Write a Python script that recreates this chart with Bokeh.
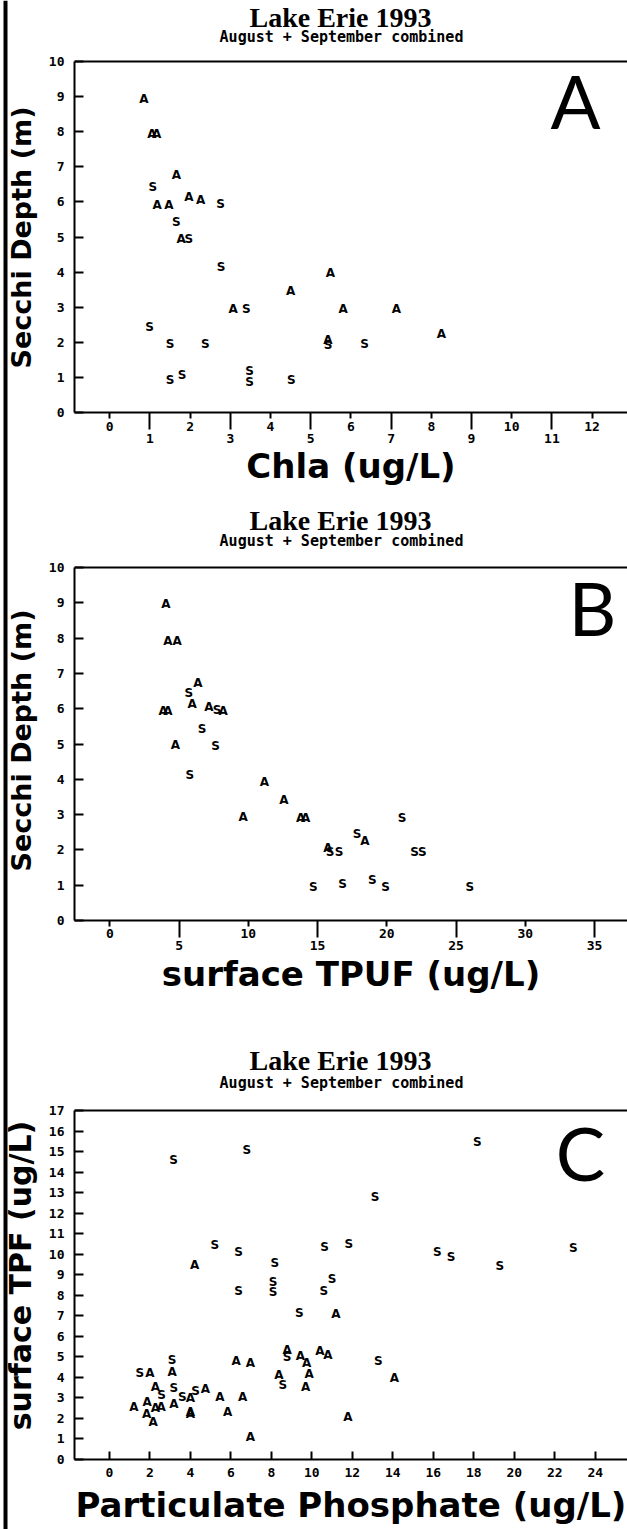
import math
from bokeh.plotting import figure
from bokeh.models import (ColumnDataSource, FixedTicker, LinearAxis, Range1d, Label, Span,
                          BoxAnnotation)
from bokeh.layouts import column, row
from bokeh.core.properties import value
from bokeh.embed import file_html
from bokeh.resources import INLINE

# ---------------- data ----------------
# Panel A: Secchi depth vs Chla
chla_A = [0.85, 1.05, 1.17, 1.66, 1.97, 2.26, 1.18, 1.47, 1.78, 3.07, 5.49, 4.50, 5.81, 7.13, 8.25, 5.43]
secchiA_A = [8.93, 7.93, 7.93, 6.77, 6.15, 6.06, 5.92, 5.92, 4.93, 2.96, 3.97, 3.46, 2.96, 2.96, 2.23, 2.06]
chla_S = [1.07, 2.76, 1.66, 1.97, 2.77, 3.40, 0.99, 1.50, 2.38, 1.50, 1.80, 3.48, 3.48, 5.43, 6.34, 4.52]
secchiA_S = [6.43, 5.94, 5.44, 4.93, 4.14, 2.96, 2.43, 1.94, 1.94, 0.94, 1.06, 1.17, 0.87, 1.91, 1.94, 0.94]

# Panel B: Secchi depth vs surface TPUF
tpuf_A = [4.05, 4.19, 4.87, 6.36, 5.95, 3.86, 4.19, 7.15, 8.19, 4.74, 11.17, 12.57, 9.63, 13.78, 14.14, 18.41, 15.74]
secchiB_A = [8.97, 7.93, 7.93, 6.72, 6.12, 5.93, 5.93, 6.04, 5.93, 4.96, 3.92, 3.42, 2.93, 2.90, 2.90, 2.24, 2.05]
tpuf_S = [5.71, 7.75, 6.67, 7.63, 5.78, 21.11, 17.86, 15.90, 16.55, 22.00, 22.56, 14.69, 16.81, 18.95, 19.91, 26.00]
secchiB_S = [6.44, 5.95, 5.43, 4.95, 4.13, 2.91, 2.44, 1.94, 1.94, 1.94, 1.94, 0.94, 1.04, 1.15, 0.94, 0.94]

# Panel C: surface TPF vs particulate phosphate
pp_A = [4.21, 11.19, 8.78, 9.44, 9.74, 10.40, 10.79, 9.87, 9.69, 8.37, 6.27, 6.97, 3.10, 2.00, 2.28, 1.21,
        1.87, 1.84, 2.17, 2.28, 2.56, 3.19, 4.01, 4.01, 4.01, 4.75, 5.46, 5.85, 6.58, 6.97, 11.78, 14.08]
tpf_A = [9.46, 7.11, 5.33, 5.04, 4.68, 5.30, 5.09, 4.16, 3.54, 4.11, 4.81, 4.68, 4.27, 4.19, 3.51, 2.57,
         2.81, 2.20, 1.84, 2.49, 2.57, 2.70, 2.98, 2.33, 2.21, 3.42, 3.03, 2.33, 3.03, 1.11, 2.08, 3.98]
pp_S = [8.17, 8.09, 8.09, 6.38, 10.59, 11.00, 9.38, 8.78, 3.10, 1.51, 2.58, 3.19, 3.60, 4.26, 8.57,
        3.18, 6.79, 18.18, 13.13, 5.21, 6.38, 10.63, 11.83, 16.20, 16.88, 19.29, 22.92, 13.29]
tpf_S = [9.55, 8.65, 8.17, 8.21, 8.21, 8.78, 7.14, 5.00, 4.84, 4.19, 3.14, 3.46, 3.06, 3.35, 3.62,
         14.61, 15.10, 15.47, 12.79, 10.47, 10.11, 10.36, 10.52, 10.11, 9.87, 9.42, 10.31, 4.79]

ticksA_even = [0, 2, 4, 6, 8, 10, 12]
ticksA_odd = [1, 3, 5, 7, 9, 11]
ticksB_even = [0, 10, 20, 30]
ticksB_odd = [5, 15, 25, 35]
ticksC = [0, 2, 4, 6, 8, 10, 12, 14, 16, 18, 20, 22, 24]
yticks10 = list(range(0, 11))
yticks17 = list(range(0, 18))

TITLE = "Lake Erie 1993"
SUBTITLE = "August + September combined"
YLABEL_AB = "Secchi Depth (m)"
YLABEL_C = "surface TPF (ug/L)"

# ---------------- layout helpers ----------------
PAGE_W, PAGE_H = 627, 1529
GUTTER_W = 44
FIG_W = PAGE_W - GUTTER_W
FRAME_L = 74
FRAME_R = 627
FRAME_W = FRAME_R - FRAME_L
MID = 0.40  # distance (in em) from the baseline up to the text middle

MONO = "DejaVu Sans Mono"
HEAVY = "DejaVu Sans"


def style_axis(ax, fs="13px"):
    ax.axis_line_width = 2
    ax.axis_line_color = "black"
    ax.major_tick_line_width = 2
    ax.minor_tick_line_width = 2
    ax.major_tick_line_color = "black"
    ax.minor_tick_line_color = "black"
    ax.major_label_text_font = MONO
    ax.major_label_text_font_style = "bold"
    ax.major_label_text_font_size = fs
    ax.major_label_text_color = "black"
    ax.axis_label_text_font = HEAVY
    ax.axis_label_text_font_style = "bold"
    ax.axis_label_text_color = "black"


# left gutter: page border bar and the rotated y-axis titles
gutter = figure(width=GUTTER_W, height=PAGE_H, x_range=Range1d(0, GUTTER_W),
                y_range=Range1d(0, PAGE_H), output_backend="svg", toolbar_location=None,
                x_axis_location=None, y_axis_location=None,
                min_border_left=0, min_border_right=0, min_border_top=0, min_border_bottom=0)
gutter.outline_line_color = None
gutter.xgrid.visible = False
gutter.ygrid.visible = False
gutter.add_layout(BoxAnnotation(left=3, right=7, fill_color="black", fill_alpha=1.0,
                                line_color=None))


def gutter_label(text, base_x, center_y, fs):
    gutter.add_layout(Label(x=base_x - MID * fs, y=PAGE_H - center_y, text=text, text_font=HEAVY,
                            text_font_style="bold", text_font_size=f"{fs}px",
                            text_align="center", text_baseline="middle", angle=math.pi / 2,
                            text_color="black"))


def make_panel(fig_top, fig_h, frame_top, frame_h, zero_px, ppu, ymax, yticks,
               title_base, sub_base):
    # the frame reaches the figure top so the titles can sit inside it;
    # the visible y axis is bounded to 0..ymax
    frame_bottom = frame_top + frame_h
    x0 = (FRAME_L - zero_px) / ppu
    x1 = (FRAME_R - zero_px) / ppu
    y_top = ymax * (frame_bottom - fig_top) / frame_h
    p = figure(width=FIG_W, height=fig_h,
               x_range=Range1d(x0, x1), y_range=Range1d(0, y_top),
               output_backend="svg", toolbar_location=None,
               x_axis_location=None, y_axis_location="left",
               min_border_left=FRAME_L - GUTTER_W, min_border_right=0,
               min_border_top=0,
               min_border_bottom=fig_h - (frame_bottom - fig_top))
    p.outline_line_color = None
    p.xgrid.visible = False
    p.ygrid.visible = False
    p.background_fill_color = "white"
    p.border_fill_color = "white"
    ya = p.yaxis[0]
    ya.ticker = FixedTicker(ticks=yticks)
    ya.bounds = (0, ymax)
    style_axis(ya)
    ya.major_tick_in = 9
    ya.major_tick_out = 0
    ya.minor_tick_in = 0
    ya.minor_tick_out = 0
    ya.major_label_standoff = 10
    p.add_layout(Span(location=ymax, dimension="width", line_color="black", line_width=2))

    def to_data(X, Y):
        xd = x0 + (X - FRAME_L) / FRAME_W * (x1 - x0)
        yd = (frame_bottom - Y) / frame_h * ymax
        return xd, yd

    x, y = to_data(340, title_base - MID * 28)
    p.add_layout(Label(x=x, y=y, text=TITLE, text_font="Liberation Serif", text_font_style="bold",
                       text_font_size="28px", text_align="center", text_baseline="middle",
                       text_color="black"))
    x, y = to_data(341, sub_base - MID * 15)
    p.add_layout(Label(x=x, y=y, text=SUBTITLE, text_font=MONO, text_font_style="bold",
                       text_font_size="15px", text_align="center", text_baseline="middle",
                       text_color="black"))
    return p, to_data


def add_letter(p, to_data, letter, cx, base):
    x, y = to_data(cx, base - MID * 74)
    p.add_layout(Label(x=x, y=y, text=letter, text_font="Lato", text_font_style="normal",
                       text_font_size="74px", text_align="center", text_baseline="middle",
                       text_color="black"))


def add_points(p, xs, ys, letter):
    src = ColumnDataSource(dict(x=xs, y=ys, t=[letter] * len(xs)))
    p.text(x="x", y="y", text="t", source=src, text_font=value("DejaVu Sans"),
           text_font_style="bold", text_font_size=value("12px"), text_align="center",
           text_baseline="middle", text_color="black")


def staggered_axes(p, even, odd, s1, xlabel, xl_standoff):
    # upper row: even labels with short ticks; long ticks at the odd values
    ax1 = LinearAxis(ticker=FixedTicker(ticks=even, minor_ticks=odd))
    style_axis(ax1, "13px")
    ax1.major_tick_in = 0
    ax1.major_tick_out = 6
    ax1.minor_tick_in = 0
    ax1.minor_tick_out = 17
    ax1.major_label_standoff = s1
    p.add_layout(ax1, "below")
    # lower row: odd labels
    ax2 = LinearAxis(ticker=FixedTicker(ticks=odd))
    style_axis(ax2, "13px")
    ax2.axis_line_color = None
    ax2.major_tick_line_color = None
    ax2.major_tick_in = 0
    ax2.major_tick_out = 0
    ax2.minor_tick_in = 0
    ax2.minor_tick_out = 0
    ax2.major_label_standoff = 0
    ax2.axis_label = xlabel
    ax2.axis_label_text_font_size = "34px"
    ax2.axis_label_standoff = xl_standoff
    p.add_layout(ax2, "below")


# ---------------- panel A ----------------
pA, dA = make_panel(0, 500, 61, 351, 109.2, 40.2, 10, yticks10, 28, 42.5)
staggered_axes(pA, ticksA_even, ticksA_odd, -8, "Chla (ug/L)", 0)
add_points(pA, chla_A, secchiA_A, "A")
add_points(pA, chla_S, secchiA_S, "S")
add_letter(pA, dA, "A", 575, 130)
gutter_label(YLABEL_AB, 31.5, 237, 27)

# ---------------- panel B ----------------
pB, dB = make_panel(500, 500, 567, 353, 109.3, 13.85, 10, yticks10, 531.5, 546.5)
staggered_axes(pB, ticksB_even, ticksB_odd, -9, "surface TPUF (ug/L)", 1)
add_points(pB, tpuf_A, secchiB_A, "A")
add_points(pB, tpuf_S, secchiB_S, "S")
add_letter(pB, dB, "B", 592, 637)
gutter_label(YLABEL_AB, 31.5, 740, 27)

# ---------------- panel C ----------------
pC, dC = make_panel(1000, 529, 1110, 349, 108.8, 20.25, 17, yticks17, 1071.5, 1088.5)
axC = LinearAxis(ticker=FixedTicker(ticks=ticksC))
style_axis(axC, "13px")
axC.major_tick_in = 8
axC.major_tick_out = 0
axC.minor_tick_in = 0
axC.minor_tick_out = 0
axC.major_label_standoff = 8
axC.axis_label = "Particulate Phosphate (ug/L)"
axC.axis_label_text_font_size = "34px"
axC.axis_label_standoff = 5
pC.add_layout(axC, "below")
add_points(pC, pp_A, tpf_A, "A")
add_points(pC, pp_S, tpf_S, "S")
add_letter(pC, dC, "C", 580, 1182)
gutter_label(YLABEL_C, 32, 1275, 30)

layout = row(gutter, column(pA, pB, pC, spacing=0), spacing=0)

open("out.html", "w").write(file_html(layout, INLINE))
